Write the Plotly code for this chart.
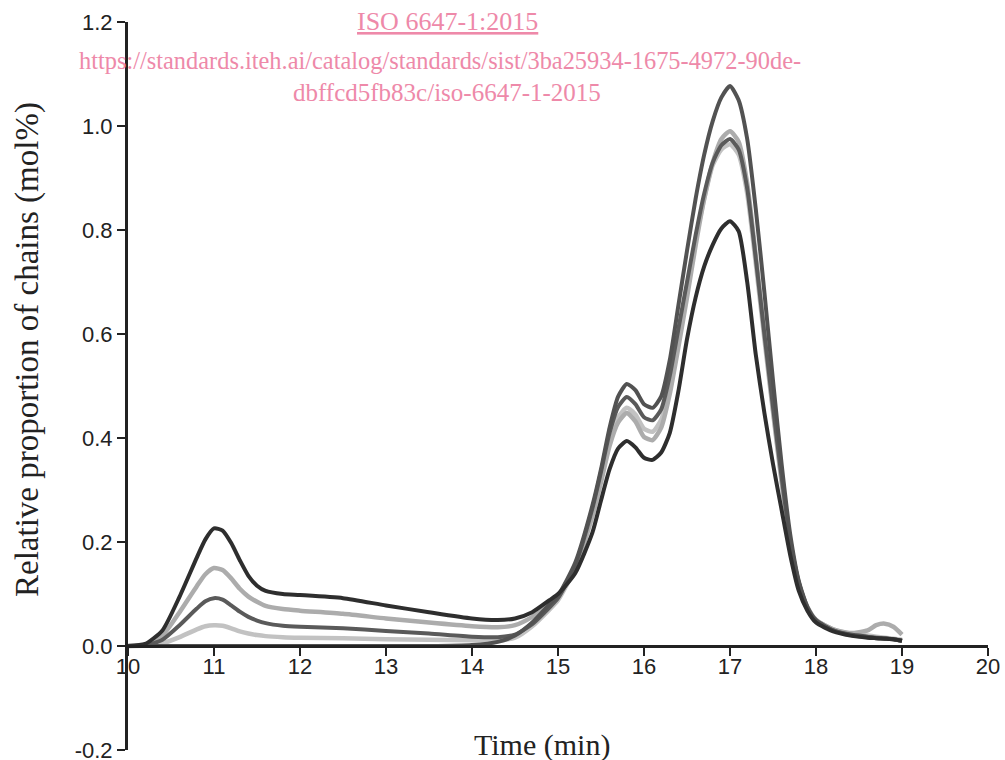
import plotly.graph_objects as go

# Time grid (min)
time_min = [10.0, 10.2, 10.4, 10.6, 10.8, 10.9, 11.0, 11.1, 11.2, 11.3,
            11.4, 11.5, 11.6, 11.8, 12.0, 12.5, 13.0, 13.5, 14.0, 14.3,
            14.5, 14.7, 14.9, 15.0, 15.2, 15.4, 15.5, 15.6, 15.7, 15.8,
            15.9, 16.0, 16.1, 16.2, 16.3, 16.4, 16.5, 16.6, 16.7, 16.8,
            16.9, 17.0, 17.1, 17.2, 17.3, 17.4, 17.5, 17.6, 17.7, 17.8,
            17.9, 18.0, 18.2, 18.4, 18.6, 18.7, 18.8, 18.9, 19.0]

# Series values (mol%)
s_light_low = [0.0, 0.001, 0.005, 0.017, 0.032, 0.038, 0.040, 0.039, 0.034, 0.028,
               0.024, 0.021, 0.019, 0.017, 0.016, 0.015, 0.013, 0.012, 0.011, 0.011,
               0.016, 0.038, 0.070, 0.088, 0.150, 0.255, 0.320, 0.390, 0.440, 0.458,
               0.445, 0.418, 0.412, 0.435, 0.500, 0.590, 0.685, 0.780, 0.860, 0.925,
               0.955, 0.965, 0.945, 0.870, 0.735, 0.590, 0.450, 0.315, 0.200, 0.120,
               0.075, 0.050, 0.032, 0.024, 0.020, 0.018, 0.016, 0.014, 0.012]

s_light_high = [0.0, 0.002, 0.020, 0.065, 0.115, 0.138, 0.150, 0.146, 0.130, 0.110,
                0.095, 0.085, 0.077, 0.071, 0.068, 0.062, 0.053, 0.045, 0.038, 0.036,
                0.040, 0.056, 0.080, 0.095, 0.150, 0.250, 0.315, 0.385, 0.430, 0.448,
                0.432, 0.402, 0.396, 0.420, 0.485, 0.575, 0.670, 0.770, 0.860, 0.930,
                0.975, 0.990, 0.970, 0.890, 0.750, 0.600, 0.455, 0.320, 0.200, 0.120,
                0.075, 0.050, 0.032, 0.025, 0.030, 0.040, 0.043, 0.037, 0.022]

s_dark_mid = [0.0, 0.001, 0.012, 0.040, 0.072, 0.086, 0.092, 0.089, 0.078, 0.066,
              0.056, 0.049, 0.044, 0.039, 0.037, 0.034, 0.029, 0.024, 0.018, 0.017,
              0.022, 0.042, 0.074, 0.092, 0.155, 0.265, 0.335, 0.410, 0.460, 0.479,
              0.465, 0.440, 0.434, 0.455, 0.520, 0.610, 0.700, 0.790, 0.870, 0.930,
              0.963, 0.975, 0.955, 0.880, 0.745, 0.600, 0.460, 0.325, 0.205, 0.122,
              0.074, 0.048, 0.030, 0.021, 0.017, 0.015, 0.014, 0.013, 0.010]

s_dark_zero = [0.0, 0.0, 0.0, 0.0, 0.0, 0.0, 0.0, 0.0, 0.0, 0.0,
               0.0, 0.0, 0.0, 0.0, 0.0, 0.0, 0.0, 0.0, 0.002, 0.008,
               0.020, 0.045, 0.080, 0.097, 0.160, 0.270, 0.340, 0.420, 0.480, 0.504,
               0.492, 0.465, 0.458, 0.480, 0.550, 0.655, 0.760, 0.860, 0.945, 1.010,
               1.055, 1.077, 1.050, 0.975, 0.840, 0.680, 0.510, 0.350, 0.215, 0.125,
               0.075, 0.050, 0.030, 0.022, 0.018, 0.016, 0.015, 0.013, 0.010]

s_darkest = [0.0, 0.004, 0.030, 0.095, 0.170, 0.205, 0.226, 0.222, 0.198, 0.165,
             0.135, 0.116, 0.106, 0.100, 0.098, 0.092, 0.078, 0.065, 0.053, 0.050,
             0.053, 0.065, 0.088, 0.100, 0.140, 0.218, 0.280, 0.340, 0.380, 0.394,
             0.382, 0.362, 0.358, 0.372, 0.410, 0.490, 0.590, 0.670, 0.730, 0.772,
             0.803, 0.817, 0.798, 0.700, 0.560, 0.448, 0.350, 0.262, 0.175, 0.106,
             0.068, 0.045, 0.028, 0.020, 0.016, 0.015, 0.014, 0.013, 0.010]

series = [
    (s_light_low, "#c2c2c2", 4.5),
    (s_light_high, "#acacac", 4.5),
    (s_dark_mid, "#5a5a5a", 4),
    (s_dark_zero, "#525252", 4),
    (s_darkest, "#2e2e2e", 4),
]

x_ticks = [10, 11, 12, 13, 14, 15, 16, 17, 18, 19, 20]
y_ticks = [-0.2, 0.0, 0.2, 0.4, 0.6, 0.8, 1.0, 1.2]
y_ticktext = ["-0.2", "0.0", "0.2", "0.4", "0.6", "0.8", "1.0", "1.2"]

fig = go.Figure()
for vals, col, w in series:
    assert len(vals) == len(time_min)
    fig.add_trace(go.Scatter(x=time_min, y=vals, mode="lines",
                             line=dict(color=col, width=w, shape="spline", smoothing=0.6),
                             hoverinfo="skip"))

axis_col = "#222222"
tick_font = dict(family="Liberation Sans, Arial, sans-serif", size=22, color="#222222")

fig.update_layout(
    width=1005, height=760,
    margin=dict(l=128, r=17, t=22, b=10),
    plot_bgcolor="white", paper_bgcolor="white",
    showlegend=False,
    xaxis=dict(range=[10, 20], tickvals=x_ticks, ticks="outside", ticklen=8,
               tickwidth=2, tickcolor=axis_col, showline=True, linewidth=3,
               linecolor=axis_col, showgrid=False, zeroline=False,
               anchor="free", position=0.2 / 1.4, tickfont=tick_font,
               automargin=False, ticklabeloverflow="allow",
               ticklabelstandoff=-8),
    yaxis=dict(range=[-0.2, 1.2], tickvals=y_ticks, ticktext=y_ticktext,
               ticks="outside", ticklen=8, tickwidth=2, tickcolor=axis_col,
               showline=True, linewidth=3, linecolor=axis_col, showgrid=False,
               zeroline=False, tickfont=tick_font, automargin=False,
               ticklabeloverflow="allow"),
)

serif = "Liberation Serif, Times New Roman, serif"
pink = "#EE89A9"
fig.add_annotation(text="Time (min)", xref="paper", yref="paper",
                   x=(542 - 128) / 860, y=(750 - 745) / 728, showarrow=False,
                   xanchor="center", yanchor="middle",
                   font=dict(family=serif, size=30, color="#222222"))
fig.add_annotation(text="Relative proportion of chains (mol%)", xref="paper", yref="paper",
                   x=(28 - 128) / 860, y=(750 - 350) / 728, showarrow=False,
                   textangle=-90, xanchor="center", yanchor="middle",
                   font=dict(family=serif, size=33, color="#222222"))
fig.add_annotation(text="<u>ISO 6647-1:2015</u>", xref="paper", yref="paper",
                   x=(447 - 128) / 860, y=(750 - 21) / 728, showarrow=False,
                   xanchor="center", yanchor="middle",
                   font=dict(family=serif, size=26, color=pink))
fig.add_annotation(text="https://standards.iteh.ai/catalog/standards/sist/3ba25934-1675-4972-90de-",
                   xref="paper", yref="paper",
                   x=(440 - 128) / 860, y=(750 - 60) / 728, showarrow=False,
                   xanchor="center", yanchor="middle",
                   font=dict(family=serif, size=24.4, color=pink))
fig.add_annotation(text="dbffcd5fb83c/iso-6647-1-2015", xref="paper", yref="paper",
                   x=(447 - 128) / 860, y=(750 - 92) / 728, showarrow=False,
                   xanchor="center", yanchor="middle",
                   font=dict(family=serif, size=25, color=pink))

fig.write_html("out.html", config={"displayModeBar": False})

# remove the browser's default page margin so the figure sits at the window origin
with open("out.html", "r", encoding="utf-8") as f:
    html = f.read()
html = html.replace("<head>", "<head><style>html,body{margin:0;padding:0;}</style>", 1)
with open("out.html", "w", encoding="utf-8") as f:
    f.write(html)
